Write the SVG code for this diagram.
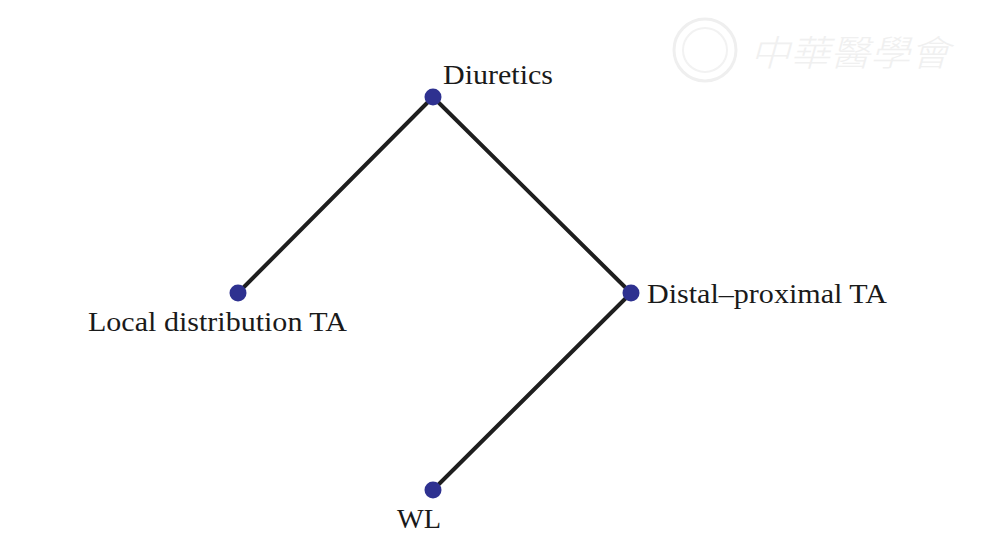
<svg xmlns="http://www.w3.org/2000/svg" width="987" height="555" viewBox="0 0 987 555">
<style>
.edge{stroke:#1e1e1e;stroke-width:4;stroke-linecap:round;fill:none}
.dot{fill:#2e3190}
.lbl{font-family:"Liberation Serif","Times New Roman",serif;font-size:27px;fill:#1a1a1a}
.wm{font-family:"Noto Sans CJK TC","Noto Sans CJK SC",sans-serif;font-size:36px;font-weight:300;fill:#f0f0f0;font-style:italic}
</style>
<rect width="987" height="555" fill="#ffffff"/>
<g id="watermark">
<circle cx="705" cy="50" r="31" fill="none" stroke="#efefef" stroke-width="3"/>
<circle cx="705" cy="50" r="22" fill="none" stroke="#f2f2f2" stroke-width="2"/>
<text class="wm" x="750" y="66" textLength="200" lengthAdjust="spacingAndGlyphs">中華醫學會</text>
</g>
<g id="connectors">
<line class="edge" x1="433" y1="97" x2="238" y2="293"/>
<line class="edge" x1="433" y1="97" x2="631" y2="293"/>
<line class="edge" x1="631" y1="293" x2="433" y2="490"/>
</g>
<g id="node-diuretics">
<circle class="dot" cx="433" cy="97" r="8.5"/>
<text class="lbl" x="443" y="84" textLength="110" lengthAdjust="spacingAndGlyphs">Diuretics</text>
</g>
<g id="node-local">
<circle class="dot" cx="238" cy="293" r="8.5"/>
<text class="lbl" x="88" y="331" textLength="259" lengthAdjust="spacingAndGlyphs">Local distribution TA</text>
</g>
<g id="node-distal">
<circle class="dot" cx="631" cy="293" r="8.5"/>
<text class="lbl" x="647" y="303" textLength="240" lengthAdjust="spacingAndGlyphs">Distal–proximal TA</text>
</g>
<g id="node-wl">
<circle class="dot" cx="433" cy="490" r="8.5"/>
<text class="lbl" x="397" y="528" textLength="44" lengthAdjust="spacingAndGlyphs">WL</text>
</g>
</svg>
